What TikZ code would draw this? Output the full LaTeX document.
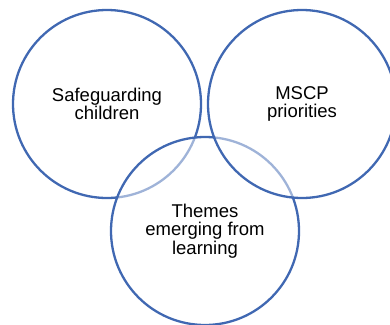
\documentclass[tikz,border=0pt]{standalone}
\usepackage{fontspec}
\setmainfont{Liberation Sans}
\definecolor{vennblue}{HTML}{4068B2}

\begin{document}
\begin{tikzpicture}[x=1pt,y=-1pt,
    vennring/.style={circle,draw=vennblue,line width=2.3pt,fill=white,
      fill opacity=0.5,draw opacity=1,text opacity=1,minimum size=188pt,
      inner sep=0pt,align=center,font=\fontsize{18.5}{18.5}\selectfont}]
    \useasboundingbox (0,0) rectangle (390,324);
    \clip (0,0) rectangle (390,324);
    \node[vennring] (safe) at (107,104) {Safeguarding\\children};
    \node[vennring] (themes) at (205,231) {Themes\\emerging from\\learning};
    \node[vennring] (mscp) at (302,104) {MSCP\\priorities};
\end{tikzpicture}
\end{document}
